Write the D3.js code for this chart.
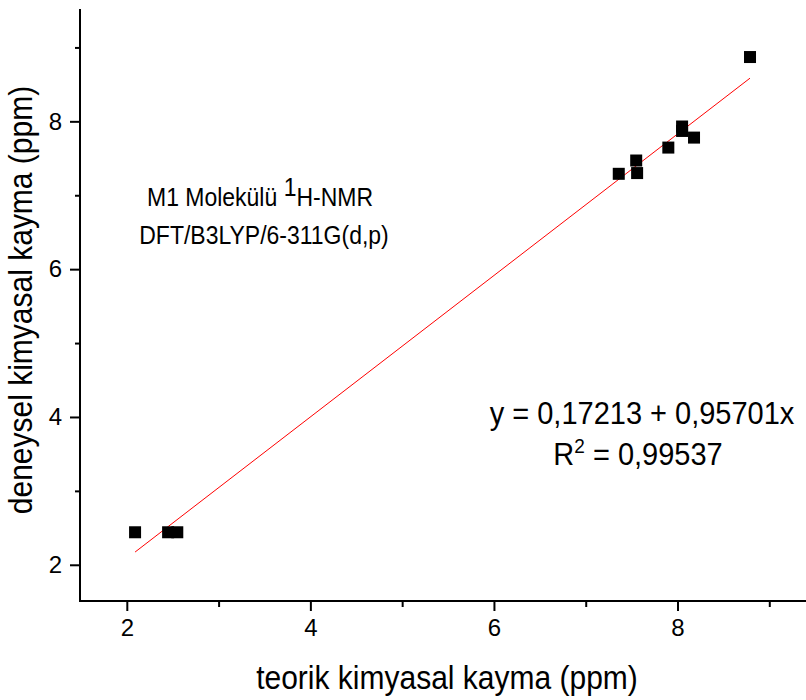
<!DOCTYPE html>
<html>
<head>
<meta charset="utf-8">
<script src="https://cdn.jsdelivr.net/npm/d3@7"></script>
<style>
  body { margin: 0; background: #fff; }
  svg { display: block; font-family: "Liberation Sans", Arial, sans-serif; }
</style>
</head>
<body>
<div id="chart"></div>
<script>
// theoretical (x) vs experimental (y) shifts, ppm
var teorik  = [2.09, 2.45, 2.55, 7.36, 7.55, 7.56, 7.90, 8.05, 8.05, 8.18, 8.79];
var deneysel = [2.44, 2.44, 2.44, 7.29, 7.47, 7.30, 7.645, 7.93, 7.87, 7.78, 8.87];
var fitA = 0.17213, fitB = 0.95701;
var majorTicks = [2, 4, 6, 8];
var minorTicksX = [3, 5, 7, 9];
var minorTicksY = [3, 5, 7, 9];

var width = 806, height = 700;
var svg = d3.select('#chart').append('svg').attr('width', width).attr('height', height);

var x = d3.scaleLinear().domain([1.49, 9.4]).range([80, 806]);
var y = d3.scaleLinear().domain([1.51, 9.52]).range([601, 9]);

// axes
svg.append('g').attr('transform', 'translate(0,601)')
    .call(d3.axisBottom(x).tickValues(majorTicks).tickSize(10).tickPadding(8).tickFormat(d3.format('d')));
svg.append('g').attr('transform', 'translate(0,601)')
    .call(d3.axisBottom(x).tickValues(minorTicksX).tickSize(6).tickFormat(''));
svg.append('g').attr('transform', 'translate(80,0)')
    .call(d3.axisLeft(y).tickValues(majorTicks).tickSize(10).tickPadding(8).tickFormat(d3.format('d')));
svg.append('g').attr('transform', 'translate(80,0)')
    .call(d3.axisLeft(y).tickValues(minorTicksY).tickSize(5).tickFormat(''));

svg.selectAll('.domain').remove();
svg.selectAll('.tick line').attr('stroke', '#000').attr('stroke-width', 2);
svg.selectAll('.tick text').attr('fill', '#000').style('font-size', '24px')
    .style('font-family', '"Liberation Sans", Arial, sans-serif');
svg.append('line').attr('x1', 80).attr('y1', 601).attr('x2', 806).attr('y2', 601)
    .attr('stroke', '#000').attr('stroke-width', 2);
svg.append('line').attr('x1', 80).attr('y1', 9).attr('x2', 80).attr('y2', 602)
    .attr('stroke', '#000').attr('stroke-width', 2);

// fit line
var xmin = d3.min(teorik), xmax = d3.max(teorik);
svg.append('line')
    .attr('x1', x(xmin)).attr('y1', y(fitA + fitB * xmin))
    .attr('x2', x(xmax)).attr('y2', y(fitA + fitB * xmax))
    .attr('stroke', '#ff0000').attr('stroke-width', 1);

// points
var s = 12;
svg.selectAll('rect.pt').data(teorik).enter().append('rect')
    .attr('class', 'pt')
    .attr('x', function(d) { return x(d) - s / 2; })
    .attr('y', function(d, i) { return y(deneysel[i]) - s / 2; })
    .attr('width', s).attr('height', s)
    .attr('fill', '#000');

// text in the source is a little taller than Liberation Sans, stretch it a bit
function label(tx, ty, size, sy, rot) {
    var g = svg.append('g').attr('transform', 'translate(' + tx + ',' + ty + ')' + (rot ? ' rotate(' + rot + ')' : '') + ' scale(1,' + sy + ')');
    return g.append('text').attr('text-anchor', 'middle').style('font-size', size + 'px');
}

// axis titles
label(447, 689, 30, 1.12).text('teorik kimyasal kayma (ppm)');
label(32, 300, 30, 1.12, -90).text('deneysel kimyasal kayma (ppm)');

// annotations
var t1 = label(260, 206, 23, 1.1);
t1.append('tspan').text('M1 Molekülü ');
t1.append('tspan').attr('dy', -9).text('1');
t1.append('tspan').attr('dy', 9).text('H-NMR');
label(264, 244, 23, 1.1).text('DFT/B3LYP/6-311G(d,p)');

label(642, 424, 29, 1.05).text('y = 0,17213 + 0,95701x');
var r2 = label(638, 465, 29, 1.05);
r2.append('tspan').text('R');
r2.append('tspan').attr('dy', -11).style('font-size', '19px').text('2');
r2.append('tspan').attr('dy', 11).text(' = 0,99537');
</script>
</body>
</html>
